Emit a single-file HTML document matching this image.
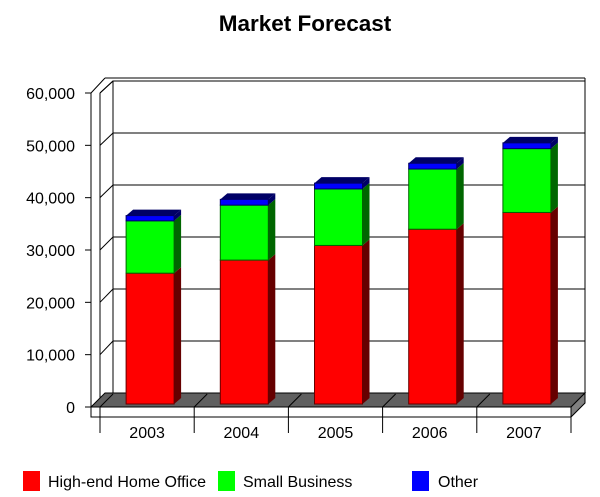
<!DOCTYPE html>
<html><head><meta charset="utf-8"><style>
body{margin:0;background:#fff;}
svg{display:block;font-family:"Liberation Sans",Arial,sans-serif;}
</style></head><body>
<svg id="chart" width="600" height="497" viewBox="0 0 600 497" xmlns="http://www.w3.org/2000/svg">
<text x="305" y="31" text-anchor="middle" font-size="22.5" font-weight="bold">Market Forecast</text>
<g id="frame"></g>
<g id="bars"></g>
<g id="legend">
 <g><rect x="23" y="471" width="17" height="20" fill="#ff0000"/><text x="48" y="487" font-size="16">High-end Home Office</text></g>
 <g><rect x="218" y="471" width="17" height="20" fill="#00ff00"/><text x="243" y="487" font-size="16">Small Business</text></g>
 <g><rect x="412" y="471" width="17" height="20" fill="#0000ff"/><text x="438" y="487" font-size="16">Other</text></g>
</g>
</svg>
<script>
const categories = ["2003","2004","2005","2006","2007"];
const highEnd = [25000,27500,30300,33400,36600];
const smallBiz = [10000,10500,10800,11500,12200];
const other = [1000,1100,1100,1100,1100];
const yTicks = [0,10000,20000,30000,40000,50000,60000];
const yTickLabels = ["0","10,000","20,000","30,000","40,000","50,000","60,000"];

const NS="http://www.w3.org/2000/svg";
function mk(tag,attrs,parent){const e=document.createElementNS(NS,tag);for(const k in attrs)e.setAttribute(k,attrs[k]);parent.appendChild(e);return e;}
const frame=document.getElementById('frame'), bars=document.getElementById('bars');
const yMax=60000;
const yFront=v=>407-v/yMax*314;
const yBack=v=>393-v/yMax*312;
const yBar=v=>404-v/yMax*314;
const xL=100,xR=571,catW=(xR-xL)/categories.length;
const xCat=i=>xL+catW*(i+0.5)+3;

let bw=mk('rect',{x:113,y:81,width:472,height:312,fill:'#fff',stroke:'#000','stroke-width':1},frame);

mk('line',{x1:91,y1:93,x2:105,y2:78,stroke:'#000'},frame);
mk('line',{x1:105,y1:78,x2:585,y2:78,stroke:'#000'},frame);
mk('line',{x1:585,y1:78,x2:585,y2:395,stroke:'#000'},frame);
mk('line',{x1:100,y1:93,x2:113,y2:81,stroke:'#000'},frame);
mk('line',{x1:91,y1:93,x2:91,y2:417,stroke:'#000'},frame);
mk('line',{x1:100,y1:93,x2:100,y2:407,stroke:'#000'},frame);
yTicks.forEach((v,i)=>{
  const g=mk('g',{},frame);
  
  
  mk('line',{x1:113,y1:yBack(v),x2:585,y2:yBack(v),stroke:'#000'},g);
  mk('line',{x1:100,y1:yFront(v),x2:113,y2:yBack(v),stroke:'#000'},g);
  mk('line',{x1:85,y1:yFront(v),x2:91,y2:yFront(v),stroke:'#000'},g);
  const t=mk('text',{x:75,y:yFront(v)+6,'text-anchor':'end','font-size':16},frame);
  
  
  t.textContent=yTickLabels[i];
});
const fl=mk('polygon',{points:'91,407 105,393 585,393 571,407',fill:'#606060',stroke:'#000'},frame);

mk('rect',{x:91,y:407,width:480,height:10,fill:'#fff',stroke:'#000'},frame);
mk('polygon',{points:'571,407 585,393 585,403 571,417',fill:'#808080',stroke:'#000'},frame);
categories.forEach((c,i)=>{
  const x=xL+catW*i;
  mk('line',{x1:x,y1:407,x2:x+13,y2:394,stroke:'#000'},frame);
  mk('line',{x1:x,y1:407,x2:x,y2:433,stroke:'#000'},frame);
  const t=mk('text',{x:xL+catW*(i+0.5),y:438,'text-anchor':'middle','font-size':16},frame);
  
  
  t.textContent=c;
});
mk('line',{x1:xR,y1:407,x2:xR,y2:433,stroke:'#000'},frame);

const bwid=48,dx=7,dy=6;
const series=[{d:highEnd,f:'#ff0000',s:'#660000',n:'high-end'},{d:smallBiz,f:'#00ff00',s:'#006600',n:'small-business'},{d:other,f:'#0000ff',s:'#000066',n:'other'}];
categories.forEach((c,i)=>{
  let base=0;
  const x0=xCat(i)-bwid/2;
  series.forEach((s,si)=>{
    const v=s.d[i],y1=yBar(base),y2=yBar(base+v);
    const g=mk('g',{},bars);
    
    
    mk('rect',{x:x0,y:y2,width:bwid,height:y1-y2,fill:s.f,stroke:s.s,'stroke-width':1},g);
    mk('polygon',{points:`${x0+bwid},${y1} ${x0+bwid+dx},${y1-dy} ${x0+bwid+dx},${y2-dy} ${x0+bwid},${y2}`,fill:s.s},g);
    if(si===series.length-1){
      mk('polygon',{points:`${x0},${y2} ${x0+dx},${y2-dy} ${x0+bwid+dx},${y2-dy} ${x0+bwid},${y2}`,fill:'#000066'},g);
    }
    base+=v;
  });
});
</script>
</body></html>
